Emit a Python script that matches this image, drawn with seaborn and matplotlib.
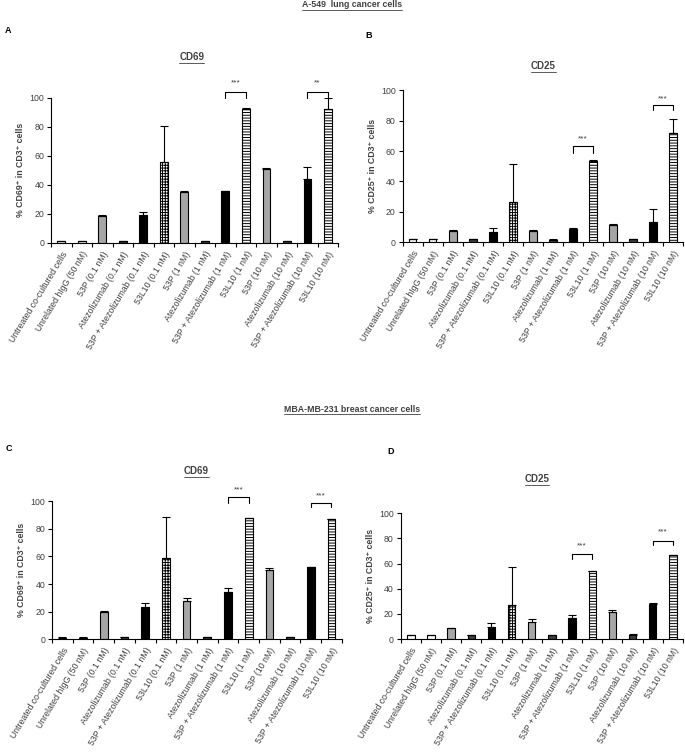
import numpy as np
import pandas as pd
import matplotlib
matplotlib.use("Agg")
import matplotlib.pyplot as plt
from matplotlib.lines import Line2D
import seaborn as sns

sns.set_style("white")
plt.rcParams['font.family'] = ['Liberation Sans', 'DejaVu Sans']
plt.rcParams['hatch.linewidth'] = 0.7

# ---------- data ---------- #
cats = ["Untreated co-cultured cells", "Unrelated hIgG (50 nM)",
        "53P (0.1 nM)", "Atezolizumab (0.1 nM)", "53P + Atezolizumab (0.1 nM)", "53L10 (0.1 nM)",
        "53P (1 nM)", "Atezolizumab (1 nM)", "53P + Atezolizumab (1 nM)", "53L10 (1 nM)",
        "53P (10 nM)", "Atezolizumab (10 nM)", "53P + Atezolizumab (10 nM)", "53L10 (10 nM)"]
groups = ["ctrl", "ctrl",
          "53P", "atezo", "combo", "53L10",
          "53P", "atezo", "combo", "53L10",
          "53P", "atezo", "combo", "53L10"]

# A-549, CD69
a_mean = [1, 1, 18.5, 1, 19.5, 55.5, 35, 1, 35.5, 92.5, 51, 1, 44, 92]
a_err = [0.3, 0.3, 1, 0.3, 1.5, 25, 0.5, 0.3, 0.5, 0.5, 0.5, 0.3, 8.5, 8]
# A-549, CD25
b_mean = [2, 2, 7.5, 2, 7, 26.5, 7.5, 1.5, 8.5, 53.5, 11.5, 2, 13.5, 72]
b_err = [0.3, 0.3, 0.7, 0.3, 2, 25, 0.5, 0.3, 0.5, 0.5, 0.5, 0.3, 8.5, 9]
# MDA-MB-231, CD69
c_mean = [1, 1, 20, 1.5, 23, 58.5, 27.5, 1.5, 34, 87.5, 50, 1.5, 52, 87]
c_err = [0.3, 0.3, 0.3, 0.3, 3, 30, 2, 0.3, 3, 0.5, 1.5, 0.3, 0.5, 0.3]
# MDA-MB-231, CD25
d_mean = [3, 3, 8.5, 3, 10, 27, 13.5, 3, 17, 54, 21.5, 3.5, 28, 66.5]
d_err = [0.3, 0.3, 0.3, 0.3, 3, 30, 2.5, 0.3, 2.5, 0.5, 1.5, 0.3, 0.5, 0.5]

# significance brackets: (bar i, bar j, leg bottom, top, text y, label)
a_sig = [(8, 9, 99.5, 104, 110, "***"), (12, 13, 99.5, 104, 110, "**")]
b_sig = [(8, 9, 59, 63, 68, "***"), (12, 13, 87, 90, 94, "***")]
c_sig = [(8, 9, 98.8, 102.7, 108, "***"), (12, 13, 95.6, 99, 104, "***")]
d_sig = [(8, 9, 63.5, 67.5, 74, "***"), (12, 13, 74.6, 78, 85, "***")]

colors = {"ctrl": "white", "53P": "#a6a6a6", "atezo": "#3f3f3f",
          "combo": "black", "53L10": "white"}
palette = {c: colors[g] for c, g in zip(cats, groups)}
grey_txt = "#404040"

fig = plt.figure(figsize=(6.85, 7.52), dpi=100)


def panel(rect, means, errs, sig, ylabel):
    ax = fig.add_axes(rect)
    df = pd.DataFrame({"cat": cats, "val": means})
    sns.barplot(data=df, x="cat", y="val", hue="cat", order=cats, hue_order=cats,
                palette=palette, legend=False, width=0.37, saturation=1,
                edgecolor="black", linewidth=0.8, errorbar=None, ax=ax)
    bars = sorted(ax.patches, key=lambda p: p.get_x())
    for bar, g, c in zip(bars, groups, cats):
        if g == "53L10":
            bar.set_hatch("++++++" if "0.1" in c else "------")
    xs = [b.get_x() + b.get_width() / 2 for b in bars]
    ax.errorbar(xs, means, yerr=[np.zeros(len(errs)), errs], fmt="none",
                ecolor="black", elinewidth=0.8, capsize=3, capthick=0.8)
    for i, j, lo, hi, ty, lab in sig:
        ax.plot([xs[i], xs[i], xs[j], xs[j]], [lo, hi, hi, lo], color="black",
                lw=0.8, clip_on=False)
        ax.text((xs[i] + xs[j]) / 2, ty, lab, ha="center", va="center",
                fontsize=6, color=grey_txt, clip_on=False)
    ax.set_ylim(0, 100)
    ax.set_xlim(-0.5, len(cats) - 0.5)
    ax.set_yticks(range(0, 101, 20))
    ax.set_xticks(range(len(cats)))
    ax.set_xticklabels(cats, rotation=59, ha="right", rotation_mode="anchor",
                       fontsize=6.3, color=grey_txt)
    ax.set_xticks(np.arange(-0.5, len(cats), 1), minor=True)
    ax.tick_params(axis="x", which="major", length=0, pad=5)
    ax.tick_params(axis="x", which="minor", bottom=True, length=3, width=0.8,
                   direction="out", color="black")
    ax.tick_params(axis="y", left=True, length=3, width=0.8, direction="out",
                   labelsize=6.3, labelcolor=grey_txt, color="black", pad=2)
    ax.set_xlabel("")
    ax.set_ylabel(ylabel, fontsize=6.3, fontweight="bold", color=grey_txt, labelpad=3)
    sns.despine(ax=ax)
    for s in ["left", "bottom"]:
        ax.spines[s].set_color("black")
        ax.spines[s].set_linewidth(0.8)
    return ax


panel([0.0745, 0.677, 0.419, 0.193], a_mean, a_err, a_sig, "% CD69⁺ in CD3⁺ cells")
panel([0.588, 0.678, 0.409, 0.202], b_mean, b_err, b_sig, "% CD25⁺ in CD3⁺ cells")
panel([0.076, 0.150, 0.423, 0.1835], c_mean, c_err, c_sig, "% CD69⁺ in CD3⁺ cells")
panel([0.585, 0.150, 0.412, 0.1676], d_mean, d_err, d_sig, "% CD25⁺ in CD3⁺ cells")

# ---------- headings ---------- #
underlined = []
underlined.append(fig.text(0.514, 0.9935, "A-549  lung cancer cells", ha="center", va="center",
                           fontsize=6.3, fontweight="bold", color=grey_txt))
underlined.append(fig.text(0.280, 0.924, "CD69", ha="center", va="center",
                           fontsize=7, fontweight="bold", color=grey_txt))
underlined.append(fig.text(0.793, 0.912, "CD25", ha="center", va="center",
                           fontsize=7, fontweight="bold", color=grey_txt))
underlined.append(fig.text(0.514, 0.456, "MBA-MB-231 breast cancer cells", ha="center", va="center",
                           fontsize=6.3, fontweight="bold", color=grey_txt))
underlined.append(fig.text(0.287, 0.374, "CD69", ha="center", va="center",
                           fontsize=7, fontweight="bold", color=grey_txt))
underlined.append(fig.text(0.784, 0.363, "CD25", ha="center", va="center",
                           fontsize=7, fontweight="bold", color=grey_txt))

for x, y, s in [(0.007, 0.959, "A"), (0.533, 0.953, "B"), (0.008, 0.403, "C"), (0.566, 0.400, "D")]:
    fig.text(x, y, s, ha="left", va="center", fontsize=6.5, fontweight="bold", color="black")

# underline headings
renderer = fig.canvas.get_renderer()
inv = fig.transFigure.inverted()
for t in underlined:
    bb = t.get_window_extent(renderer).transformed(inv)
    fig.add_artist(Line2D([bb.x0, bb.x1], [bb.y0 - 0.001] * 2, transform=fig.transFigure,
                          color=grey_txt, lw=0.6))

fig.savefig("out.png", dpi=100)
